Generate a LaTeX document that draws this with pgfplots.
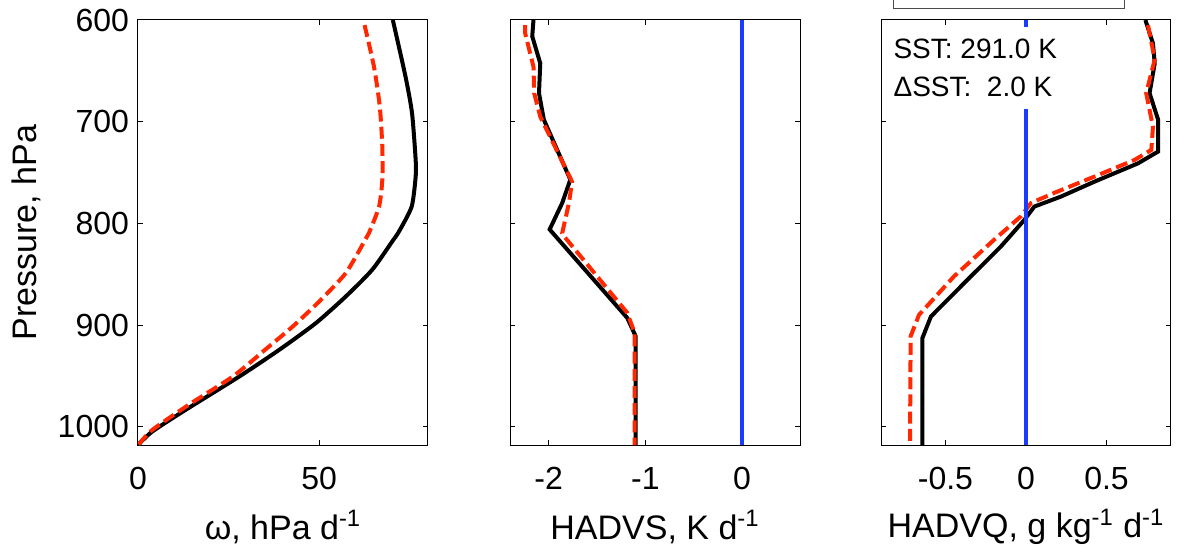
\documentclass[border=0pt]{standalone}
\usepackage{fontspec}
\setmainfont{Liberation Sans}
\usepackage{pgfplots}
\pgfplotsset{compat=1.18}
\definecolor{lred}{RGB}{255,40,0}
\definecolor{lblue}{RGB}{25,60,255}
\pgfplotsset{
  prof/.style={
    scale only axis, width=145pt, height=212.5pt,
    y dir=reverse, ymin=600, ymax=1018,
    ytick={600,700,800,900,1000},
    tick align=inside, major tick length=2.5pt,
    axis line style={line width=0.5pt},
    every tick/.style={line width=0.5pt, black},
    /pgf/number format/assume math mode=true,
    tick label style={font=\fontsize{16}{19}\selectfont},
    label style={font=\fontsize{17}{20}\selectfont},
    xticklabel style={anchor=center, yshift=-16.5pt},
    xlabel style={at={(axis description cs:0.5,-0.193)}, anchor=center},
  },
  blk/.style={black, line width=2pt},
  rdd/.style={lred, line width=2pt, dash pattern=on 6pt off 2.6pt},
  blu/.style={lblue, line width=1.6pt},
}
\begin{document}
\begin{tikzpicture}
% Panel 1: omega
\begin{axis}[prof, at={(0pt,0pt)}, anchor=south west,
  xmin=0, xmax=80, xtick={0,50}, xticklabels={0,50},
  yticklabels={600,700,800,900,1000},
  yticklabel style={xshift=-1pt},
  xlabel={ω, hPa d\textsuperscript{-1}},
  ylabel={Pressure, hPa},
  ylabel style={at={(axis description cs:-0.385,0.5)}, anchor=center}]
\addplot[blk, smooth, tension=0.4] coordinates {(70.3,600) (73.8,655.7) (75.6,691.7) (76.6,737.6) (76.6,754) (75.5,783.5) (72.0,808) (70.1,818) (64.6,845.7) (57.3,872) (49.1,898) (39.0,924.3) (28.0,950.5) (13.2,983.3) (4.0,1004.6) (0,1018)};
\addplot[rdd, smooth, tension=0.4] coordinates {(62.5,605) (65.1,646) (66.7,685) (67.4,724.5) (67.4,757) (66.5,783.5) (63.7,809.6) (62.4,818) (57.3,849) (50.0,876.8) (42.7,901.4) (35.5,923) (26.2,950.5) (14.0,978.4) (4.0,1003) (0,1018)};
\end{axis}
% Panel 2: HADVS
\begin{axis}[prof, at={(186pt,0pt)}, anchor=south west,
  xmin=-2.4, xmax=0.6, xtick={-2,-1,0}, xticklabels={-2,-1,0},
  yticklabels={},
  xlabel={HADVS, K d\textsuperscript{-1}}]
\addplot[blk] coordinates {(-2.157,600) (-2.17,616) (-2.087,642.6) (-2.10,672) (-2.05,698) (-1.776,757) (-1.86,780) (-1.99,806) (-1.187,893) (-1.10,911) (-1.10,1018)};
\addplot[rdd] coordinates {(-2.243,605) (-2.243,613) (-2.157,646) (-2.15,672) (-2.087,695) (-1.758,759) (-1.79,780) (-1.86,809.6) (-1.83,814) (-1.187,888) (-1.11,908) (-1.11,1018)};
\addplot[blu] coordinates {(0,600) (0,1018)};
\end{axis}
% Panel 3: HADVQ
\begin{axis}[prof, at={(371.5pt,0pt)}, anchor=south west, clip=false,
  xmin=-0.9, xmax=0.9, xtick={-0.5,0,0.5}, xticklabels={-0.5,0,0.5},
  yticklabels={},
  xlabel={HADVQ, g kg\textsuperscript{-1} d\textsuperscript{-1}}]
\addplot[blk] coordinates {(0.741,600) (0.788,623) (0.799,642.6) (0.767,672) (0.82,698) (0.82,729.4) (0.695,741) (0.425,759) (0.218,773.6) (0.052,783.5) (-0.01,796.6) (-0.156,822.8) (-0.363,855.5) (-0.59,891.6) (-0.643,912.8) (-0.643,1018)};
\addplot[rdd] coordinates {(0.757,605) (0.799,639) (0.746,672) (0.788,705) (0.778,727.8) (0.674,737.6) (0.425,754) (0.176,770) (0.031,780) (-0.031,793) (-0.197,816) (-0.446,852) (-0.664,890) (-0.716,911) (-0.72,1018)};
\addplot[blu] coordinates {(0,600) (0,1018)};
\node[fill=white, anchor=north west, align=left, inner xsep=1pt, inner ysep=6pt,
  font=\fontsize{14}{19}\selectfont] at (rel axis cs:0.035,0.985)
  {SST: 291.0 K\\ΔSST:\ \ 2.0 K};
\draw[line width=0.5pt, black!70] (rel axis cs:0.0414,1.06) -- (rel axis cs:0.0414,1.028) -- (rel axis cs:0.838,1.028) -- (rel axis cs:0.838,1.06);
\end{axis}
\pgfresetboundingbox
\path[use as bounding box] (-69pt,-55.5pt) rectangle (520pt,222.5pt);
\end{tikzpicture}
\end{document}
